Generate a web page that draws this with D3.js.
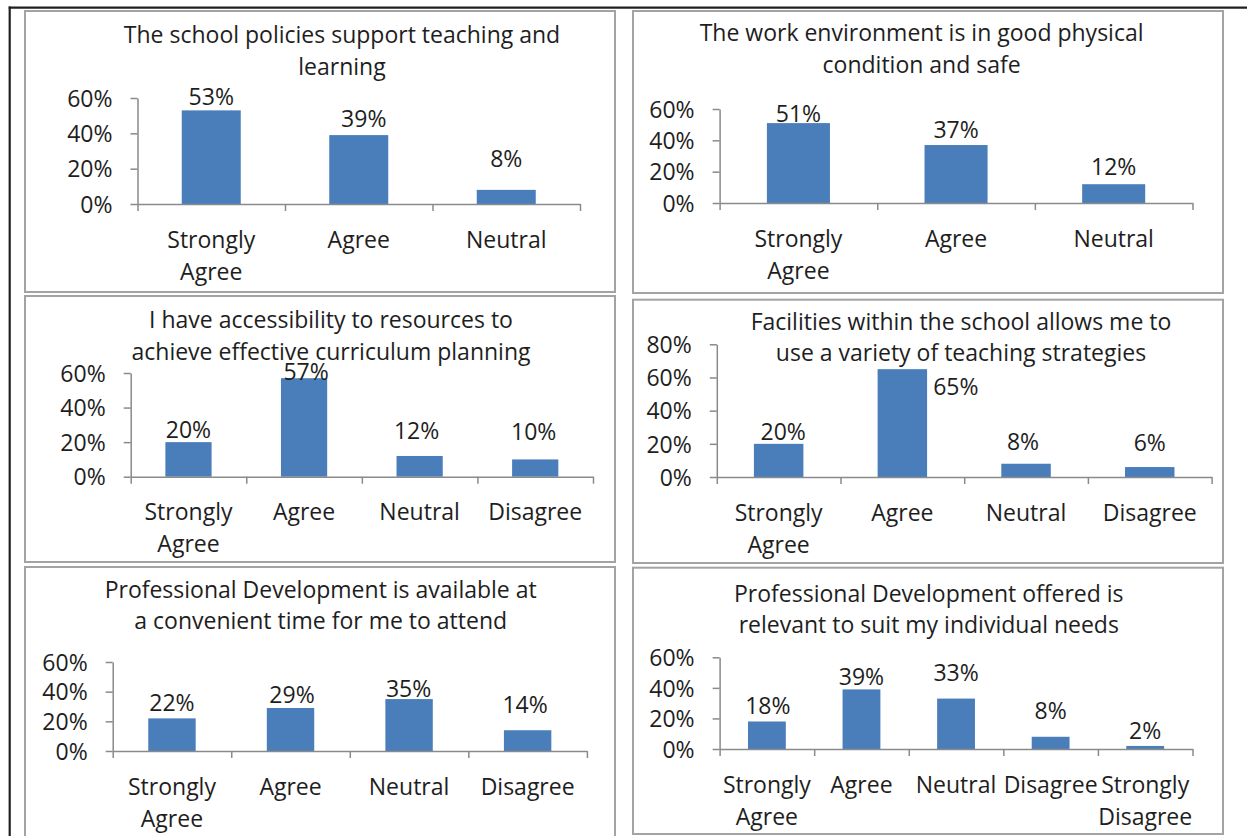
<!DOCTYPE html>
<html>
<head>
<meta charset="utf-8">
<script src="https://cdn.jsdelivr.net/npm/d3@7/dist/d3.min.js"></script>
<style>
  html, body { margin: 0; padding: 0; background: #fff; }
  svg { display: block; }
  text { font-family: "Open Sans", sans-serif; fill: #1e1e1e; }
</style>
</head>
<body>
<svg id="chart" width="1247" height="836"></svg>
<script>
// ---------------- DATA ----------------
const titles = [
  ["The school policies support teaching and", "learning"],
  ["The work environment is in good physical", "condition and safe"],
  ["I have accessibility to resources to", "achieve effective curriculum planning"],
  ["Facilities within the school allows me to", "use a variety of teaching strategies"],
  ["Professional Development is available at", "a convenient time for me to attend"],
  ["Professional Development offered is", "relevant to suit my individual needs"]
];
const cats3 = ["Strongly Agree", "Agree", "Neutral"];
const cats4 = ["Strongly Agree", "Agree", "Neutral", "Disagree"];
const cats5 = ["Strongly Agree", "Agree", "Neutral", "Disagree", "Strongly Disagree"];

const policiesValues    = [53, 39, 8];
const environmentValues = [51, 37, 12];
const resourcesValues   = [20, 57, 12, 10];
const facilitiesValues  = [20, 65, 8, 6];
const pdTimeValues      = [22, 29, 35, 14];
const pdRelevantValues  = [18, 39, 33, 8, 2];

const ticks60 = [0, 20, 40, 60];
const ticks80 = [0, 20, 40, 60, 80];

// ---------------- LAYOUT ----------------
const layout = [
  { box: [25, 11, 615, 292],  ax: [137.5, 580],   y0: 204,   yTop: 98,    tx: 342,   ty: [35, 67],
    lab: [[0, 13.7], [5, 16.8], [0, 31.6]] },
  { box: [633, 11, 1223, 293], ax: [719.6, 1192.5], y0: 203,   yTop: 109,   tx: 921.6, ty: [33, 65],
    lab: [[0, 9.8], [0, 15], [0, 17.5]] },
  { box: [25, 296, 615, 562],  ax: [130.7, 593],   y0: 476.7, yTop: 373,   tx: 331,   ty: [320, 352],
    lab: [[0, 12], [2, 6], [-3, 25.3], [-1.5, 27.7]] },
  { box: [633, 299.7, 1223, 563], ax: [716.8, 1211.6], y0: 477, yTop: 344.3, tx: 961,  ty: [321.7, 353],
    lab: [[4.5, 12], [53.5, -17.5], [-3, 22], [0, 24.7]] },
  { box: [25, 567, 615, 860],  ax: [112.7, 586.9], y0: 751,   yTop: 662,   tx: 320.7, ty: [590, 620.7],
    lab: [[0, 15.7], [1.5, 13], [-0.5, 10], [-2.5, 26]] },
  { box: [633, 567.7, 1223, 834], ax: [719.6, 1192.5], y0: 749, yTop: 657.3, tx: 928.8, ty: [593.3, 625],
    lab: [[1, 15.8], [0, 12.7], [0, 26], [0, 26], [0, 15]] }
];

const panels = [
  { title: titles[0], cats: cats3, values: policiesValues,    ticks: ticks60 },
  { title: titles[1], cats: cats3, values: environmentValues, ticks: ticks60 },
  { title: titles[2], cats: cats4, values: resourcesValues,   ticks: ticks60 },
  { title: titles[3], cats: cats4, values: facilitiesValues,  ticks: ticks80 },
  { title: titles[4], cats: cats4, values: pdTimeValues,      ticks: ticks60 },
  { title: titles[5], cats: cats5, values: pdRelevantValues,  ticks: ticks60 }
];

const FONT = 23;
const BAR = "#4a7ebb";
const AXIS = "#8a8a8a";

const svg = d3.select("#chart");
svg.append("rect").attr("width", 1247).attr("height", 836).attr("fill", "#fff");

panels.forEach((p, i) => {
  const L = layout[i];
  const g = svg.append("g");

  // panel frame
  g.append("rect")
    .attr("x", L.box[0]).attr("y", L.box[1])
    .attr("width", L.box[2] - L.box[0]).attr("height", L.box[3] - L.box[1])
    .attr("fill", "#fff").attr("stroke", "#a3a3a3").attr("stroke-width", 2);

  // title
  p.title.forEach((line, k) => {
    g.append("text")
      .attr("x", L.tx).attr("y", L.ty[k]).attr("dy", "0.36em")
      .attr("text-anchor", "middle").attr("font-size", FONT)
      .text(line);
  });

  const n = p.cats.length;
  const x = d3.scaleBand().domain(p.cats).range(L.ax).paddingInner(0.6).paddingOuter(0.3);
  const xb = d3.scaleLinear().domain([0, n]).range(L.ax);
  const maxT = p.ticks[p.ticks.length - 1];
  const y = d3.scaleLinear().domain([0, maxT]).range([L.y0, L.yTop]);

  // bars
  g.selectAll("rect.bar").data(p.values).join("rect")
    .attr("class", "bar")
    .attr("x", (d, j) => x(p.cats[j]))
    .attr("y", d => y(d))
    .attr("width", x.bandwidth())
    .attr("height", d => y(0) - y(d))
    .attr("fill", BAR);

  // y axis
  const yAxis = d3.axisLeft(y).tickValues(p.ticks).tickFormat(d => d + "%")
    .tickSize(7).tickSizeOuter(0).tickPadding(18);
  const ya = g.append("g").attr("transform", `translate(${L.ax[0]},0)`).call(yAxis);
  ya.select(".domain").attr("stroke", AXIS).attr("stroke-width", 1.5);
  ya.selectAll(".tick line").attr("stroke", AXIS).attr("stroke-width", 1.5);
  ya.selectAll(".tick text").attr("font-size", FONT).attr("font-family", "Open Sans")
    .attr("fill", "#1e1e1e").attr("dy", "0.36em");

  // x axis (ticks at category boundaries)
  const xAxis = d3.axisBottom(xb).tickValues(d3.range(n + 1)).tickFormat("")
    .tickSize(7).tickSizeOuter(0);
  const xa = g.append("g").attr("transform", `translate(0,${L.y0})`).call(xAxis);
  xa.select(".domain").attr("stroke", AXIS).attr("stroke-width", 1.5);
  xa.selectAll(".tick line").attr("stroke", AXIS).attr("stroke-width", 1.5);

  // category labels
  p.cats.forEach(c => {
    const lines = c.split(" ");
    lines.forEach((ln, k) => {
      g.append("text")
        .attr("x", x(c) + x.bandwidth() / 2)
        .attr("y", L.y0 + 35.5 + k * 32).attr("dy", "0.36em")
        .attr("text-anchor", "middle").attr("font-size", FONT)
        .text(ln);
    });
  });

  // data labels
  p.values.forEach((v, j) => {
    const c = p.cats[j];
    const off = L.lab[j];
    const right = off[1] < 0;
    g.append("text")
      .attr("x", x(c) + x.bandwidth() / 2 + off[0])
      .attr("y", y(v) - off[1]).attr("dy", "0.36em")
      .attr("text-anchor", "middle").attr("font-size", FONT)
      .text(v + "%");
  });
});

// outer black frame lines
svg.append("line").attr("x1", 8.7).attr("x2", 1247).attr("y1", 7.7).attr("y2", 7.7)
  .attr("stroke", "#231f20").attr("stroke-width", 2.2);
svg.append("line").attr("x1", 9.7).attr("x2", 9.7).attr("y1", 6.6).attr("y2", 836)
  .attr("stroke", "#231f20").attr("stroke-width", 2.2);
</script>
</body>
</html>
